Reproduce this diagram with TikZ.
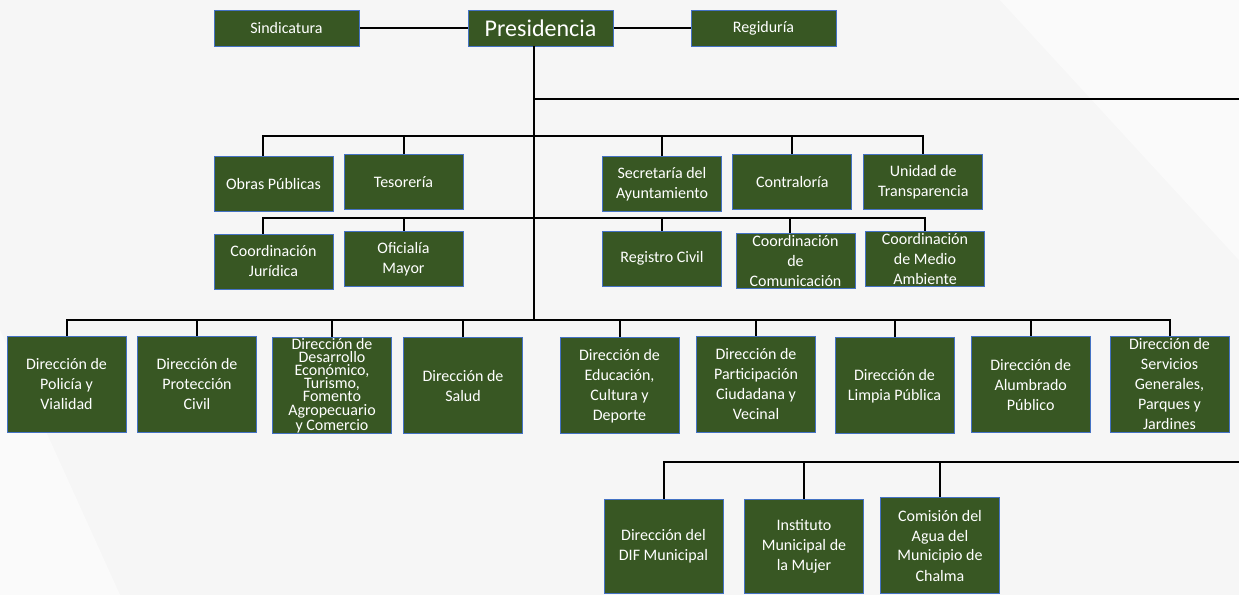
\documentclass[tikz,border=0pt]{standalone}
\usepackage{fontspec}
\setmainfont{Carlito}
\definecolor{boxgreen}{RGB}{56,87,35}
\definecolor{boxline}{RGB}{68,114,196}
\definecolor{bgpaper}{RGB}{246,246,246}
\begin{document}
\begin{tikzpicture}[x=0.5pt,y=-0.5pt,
 unit/.style={draw=boxline,line width=0.5pt,fill=boxgreen,text=white,align=center,
   inner sep=1pt,font=\fontsize{8}{10}\selectfont,minimum width=59.5pt,minimum height=27.5pt},
 head/.style={unit,minimum width=72.5pt,minimum height=18pt},
 tall/.style={unit,minimum height=48pt},
 conn/.style={line width=1pt,black}]
 \useasboundingbox (0,0) rectangle (1239,595);
 \fill[bgpaper] (0,0) rectangle (1239,595);
 \fill[white,opacity=0.5] (0,330) -- (120,595) -- (0,595) -- cycle;
 \fill[white,opacity=0.5] (1000,0) -- (1239,0) -- (1239,260) -- cycle;

 \node[head] (sind) at (286.5,28) {Sindicatura};
 \node[head,font=\fontsize{12}{14}\selectfont] (pres) at (540.5,28) {Presidencia};
 \node[head] (regi) at (763.5,28) {Regiduría};

 \node[unit] (obras) at (273.5,184.3) {Obras Públicas};
 \node[unit] (teso) at (403.5,182.3) {Tesorería};
 \node[unit] (secre) at (662,184) {Secretaría del\\Ayuntamiento};
 \node[unit] (contra) at (792.3,182) {Contraloría};
 \node[unit] (unidad) at (923.3,182) {Unidad de\\Transparencia};

 \node[unit] (jurid) at (273.5,261.5) {Coordinación\\Jurídica};
 \node[unit] (ofic) at (403.5,258.8) {Oficialía\\Mayor};
 \node[unit] (regis) at (662,258.8) {Registro Civil};
 \node[unit] (comun) at (795.5,261) {Coordinación\\de\\Comunicación};
 \node[unit] (medio) at (925,259.3) {Coordinación\\de Medio\\Ambiente};

 \node[tall] (poli) at (66.5,384.3) {Dirección de\\Policía y\\Vialidad};
 \node[tall] (prot) at (197,384) {Dirección de\\Protección\\Civil};
 \node[tall,inner sep=0pt,font=\fontsize{8}{6.6}\selectfont] (desa) at (332,385.8)
   {Dirección de\\Desarrollo\\Económico,\\Turismo,\\Fomento\\Agropecuario\\y Comercio};
 \node[tall] (salud) at (463,385.8) {Dirección de\\Salud};
 \node[tall] (educ) at (619.5,385.8) {Dirección de\\Educación,\\Cultura y\\Deporte};
 \node[tall] (parti) at (756,384.3) {Dirección de\\Participación\\Ciudadana y\\Vecinal};
 \node[tall] (limpia) at (894.5,385.8) {Dirección de\\Limpia Pública};
 \node[tall] (alumb) at (1030.7,384.7) {Dirección de\\Alumbrado\\Público};
 \node[tall] (servi) at (1169.5,384.3) {Dirección de\\Servicios\\Generales,\\Parques y\\Jardines};

 \node[tall,minimum height=47pt] (dif) at (663.5,546) {Dirección del\\DIF Municipal};
 \node[tall,minimum height=47pt] (inst) at (804,546) {Instituto\\Municipal de\\la Mujer};
 \node[tall] (comi) at (940,545.5) {Comisión del\\Agua del\\Municipio de\\Chalma};

 \coordinate (t0) at (534,46);
 \coordinate (t4) at (534,320);
 \coordinate (b1) at (0,135.5);
 \coordinate (b2) at (0,218);
 \coordinate (e1) at (1239,99);
 \coordinate (e5) at (1239,462);

 \draw[conn] (sind) -- (pres) -- (regi);
 \draw[conn] (t0) -- (t4);
 \draw[conn] (t0 |- e1) -- (e1);

 \draw[conn] ([xshift=-5.25pt]obras.north) |- (b1 -| unidad.north) -- (unidad.north);
 \foreach \n in {teso,secre,contra}
   \draw[conn] (\n.north) -- (\n.north |- b1);
 \draw[conn] ([xshift=-5.25pt]jurid.north) |- (b2 -| medio.north) -- (medio.north);
 \draw[conn] (ofic.north) -- (ofic.north |- b2);
 \draw[conn] (regis.north) -- (regis.north |- b2);
 \draw[conn] ([xshift=-2.75pt]comun.north) -- ([xshift=-2.75pt]comun.north |- b2);

 \draw[conn] (poli.north) |- (t4 -| servi.north) -- (servi.north);
 \foreach \n in {prot,desa,salud,educ,parti,limpia,alumb}
   \draw[conn] (\n.north) -- (\n.north |- t4);

 \draw[conn] (dif.north) |- (e5);
 \draw[conn] (inst.north) -- (inst.north |- e5);
 \draw[conn] (comi.north) -- (comi.north |- e5);
\end{tikzpicture}
\end{document}
